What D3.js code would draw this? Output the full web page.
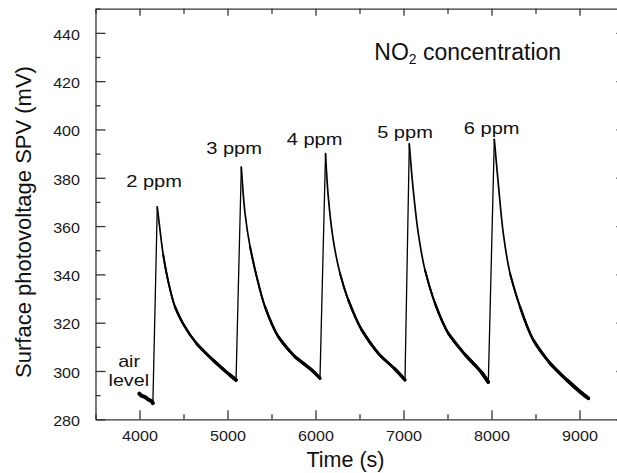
<!DOCTYPE html>
<html>
<head>
<meta charset="utf-8">
<title>SPV response to NO2 pulses</title>
<style>
  body { margin: 0; background: #fff; }
  svg { display: block; font-family: "Liberation Sans", Arial, sans-serif; }
  .frame path.domain, .frame line { stroke: #333; stroke-width: 1.3; }
  .frame text { font-size: 14px; fill: #1a1a1a; }
  .trace { fill: none; stroke: #000; stroke-linejoin: round; stroke-linecap: round; }
  .note { font-size: 17px; fill: #111; text-anchor: middle; }
  .title { font-size: 22px; fill: #111; }
</style>
</head>
<body>
<svg id="chart"></svg>
<script src="https://cdnjs.cloudflare.com/ajax/libs/d3/7.8.5/d3.min.js"></script>
<script>
// air baseline before the first pulse: [time (s), SPV (mV)]
const airLevel = [[3998, 290.6], [4025, 289.7], [4060, 289.3], [4100, 288.2], [4135, 287.6], [4152, 286.7]];

// one decay per NO2 pulse, from the peak down to the point where the next pulse starts
const decay2ppm = [[4202, 368.0], [4233, 358.4], [4270, 348.0], [4327, 337.0], [4403, 326.6], [4498, 319.4], [4650, 311.3], [4839, 304.4], [5028, 298.3], [5097, 296.3]];
const decay3ppm = [[5157, 384.4], [5199, 365.3], [5256, 351.5], [5332, 339.0], [5426, 326.6], [5577, 314.2], [5767, 305.9], [5957, 300.4], [6051, 297.0]];
const decay4ppm = [[6114, 390.0], [6145, 372.2], [6202, 354.2], [6278, 340.5], [6373, 329.4], [6525, 317.0], [6714, 307.3], [6903, 300.8], [7017, 296.3]];
const decay5ppm = [[7066, 394.0], [7111, 374.9], [7168, 357.0], [7244, 341.8], [7358, 328.0], [7509, 315.6], [7699, 306.8], [7889, 299.3], [7964, 295.4]];
const decay6ppm = [[8032, 395.9], [8077, 377.7], [8134, 357.0], [8210, 340.5], [8324, 326.6], [8475, 312.8], [8665, 303.2], [8855, 296.3], [9006, 291.4], [9100, 288.7]];
const decays = [decay2ppm, decay3ppm, decay4ppm, decay5ppm, decay6ppm];

// labels above the peaks: text, time, SPV of the baseline
const peakLabels = ["2 ppm", "3 ppm", "4 ppm", "5 ppm", "6 ppm"];
const peakLabelAt = [[4165, 376.2], [5074, 389.9], [5989, 393.4], [7017, 396.3], [8002, 398.3]];
const airLabel = ["air", "level"];
const airLabelAt = [[3882, 301.8], [3878, 293.8]];

const xTicks = [4000, 5000, 6000, 7000, 8000, 9000];
const xMinor = [3500, 4500, 5500, 6500, 7500, 8500, 9500];
const yTicks = [280, 300, 320, 340, 360, 380, 400, 420, 440];
const yMinor = [290, 310, 330, 350, 370, 390, 410, 430, 450];

const W = 617, H = 473;
const svg = d3.select("#chart").attr("width", W).attr("height", H);

const x = d3.scaleLinear().domain([3500, 9500]).range([95.5, 623.5]);
const y = d3.scaleLinear().domain([280, 450]).range([419.3, 8.7]);

const sx = 1.15;   // tick labels are a little wide in the original

// frame: four axes with inward ticks
const bottom = svg.append("g").attr("class", "frame")
  .attr("transform", `translate(0,${y(280)})`)
  .call(d3.axisBottom(x).tickValues(xTicks).tickFormat(d3.format("d"))
    .tickSizeInner(-9).tickSizeOuter(0).tickPadding(11.8));
bottom.selectAll("text").attr("transform", `scale(${sx},1)`);
svg.append("g").attr("class", "frame")
  .attr("transform", `translate(0,${y(280)})`)
  .call(d3.axisBottom(x).tickValues(xMinor).tickSizeInner(-5).tickSizeOuter(0).tickFormat(""))
  .call(g => g.select(".domain").remove());

const left = svg.append("g").attr("class", "frame")
  .attr("transform", `translate(${x(3500)},0)`)
  .call(d3.axisLeft(y).tickValues(yTicks).tickSizeInner(-10).tickSizeOuter(0).tickPadding(15.5 / sx));
left.selectAll("text").attr("dy", "0.45em").attr("transform", `scale(${sx},1)`);
svg.append("g").attr("class", "frame")
  .attr("transform", `translate(${x(3500)},0)`)
  .call(d3.axisLeft(y).tickValues(yMinor).tickSizeInner(-5).tickSizeOuter(0).tickFormat(""))
  .call(g => g.select(".domain").remove());

svg.append("g").attr("class", "frame")
  .attr("transform", `translate(0,${y(450)})`)
  .call(d3.axisTop(x).tickValues(xTicks).tickSizeInner(-7).tickSizeOuter(0).tickFormat(""));
svg.append("g").attr("class", "frame")
  .attr("transform", `translate(0,${y(450)})`)
  .call(d3.axisTop(x).tickValues(xMinor).tickSizeInner(-5).tickSizeOuter(0).tickFormat(""))
  .call(g => g.select(".domain").remove());

// right side of the frame sits just past the picture edge; only the tick tips show
const right = svg.append("g").attr("class", "frame")
  .attr("transform", `translate(${x(9500)},0)`)
  .call(d3.axisRight(y).tickValues(yTicks).tickSizeInner(-7.5).tickSizeOuter(0).tickFormat(""));
right.selectAll("line").attr("stroke-opacity", 0.6);

// trace
const smooth = d3.line().x(d => x(d[0])).y(d => y(d[1])).curve(d3.curveCatmullRom.alpha(0.5));
const straight = d3.line().x(d => x(d[0])).y(d => y(d[1]));
const plot = svg.append("g");

plot.append("path").attr("class", "trace").attr("d", straight(airLevel)).attr("stroke-width", 4);

// switch-on steps: end of previous segment straight up to the next peak
const segments = [airLevel].concat(decays);
const rises = decays.map((dec, i) => [segments[i][segments[i].length - 1], dec[0]]);
plot.selectAll(".rise").data(rises).enter().append("path")
  .attr("class", "trace rise").attr("stroke-width", 1.3).attr("d", straight);

// the signal gets noisier as it relaxes, so the tail is drawn heavier
const bands = [[400, 1.7], [352, 2.0], [333, 2.4], [318, 2.8], [307, 3.2], [300, 3.7]];
bands.forEach(([below, w]) => {
  plot.selectAll(null).data(decays.map(dec => dec.filter(p => p[1] < below)).filter(p => p.length > 1))
    .enter().append("path").attr("class", "trace").attr("stroke-width", w).attr("d", smooth);
});

// annotations
svg.selectAll(".peak").data(peakLabels).enter().append("text")
  .attr("class", "note peak")
  .attr("transform", (t, i) => `translate(${x(peakLabelAt[i][0])},${y(peakLabelAt[i][1])}) scale(1.18,1)`)
  .text(t => t);
svg.selectAll(".air").data(airLabel).enter().append("text")
  .attr("class", "note air")
  .attr("transform", (t, i) => `translate(${x(airLabelAt[i][0])},${y(airLabelAt[i][1])}) scale(1.16,1)`)
  .text(t => t);

const no2 = svg.append("text").attr("class", "title").attr("x", 374.3).attr("y", 60).style("font-size", "23px");
no2.append("tspan").text("NO");
no2.append("tspan").attr("dy", 3.5).style("font-size", "14px").text("2");
no2.append("tspan").attr("dy", -3.5).text(" concentration");

svg.append("text").attr("class", "title")
  .attr("text-anchor", "middle")
  .attr("x", 345.5).attr("y", 467)
  .style("font-size", "21.5px")
  .text("Time (s)");

svg.append("text").attr("class", "title")
  .attr("text-anchor", "middle")
  .attr("transform", "translate(31,222) rotate(-90)")
  .text("Surface photovoltage SPV (mV)");
</script>
</body>
</html>
